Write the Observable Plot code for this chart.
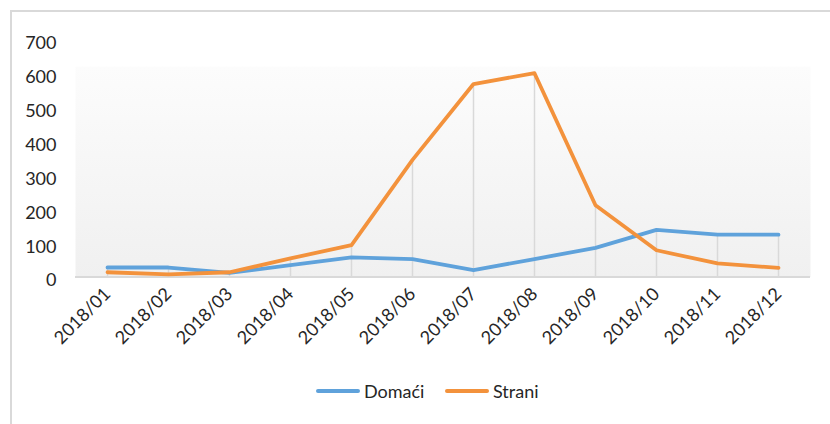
<!DOCTYPE html>
<html>
<head>
<meta charset="utf-8">
<script src="https://cdn.jsdelivr.net/npm/d3@7"></script>
<script src="https://cdn.jsdelivr.net/npm/@observablehq/plot@0.6"></script>
<style>
  html, body { margin: 0; padding: 0; background: #fff; overflow: hidden; width: 830px; height: 424px; }
  #wrap { position: relative; width: 830px; height: 424px; }
  #border { position: absolute; left: 10px; top: 10px; width: 900px; height: 600px; border: 2px solid #d9d9d9; box-sizing: border-box; pointer-events: none; }
  #legend { position: absolute; left: 0; top: 360px; width: 830px; height: 64px; font-family: Lato, sans-serif; font-size: 18px; color: #262626; }
  .item { position: absolute; top: 20px; display: flex; align-items: center; }
  .swatch { width: 44px; height: 4px; border-radius: 2px; margin-right: 4px; }
</style>
</head>
<body>
<div id="wrap">
  <div id="chart"></div>
  <div id="legend"></div>
  <div id="border"></div>
</div>
<script>
const months = ["2018/01","2018/02","2018/03","2018/04","2018/05","2018/06","2018/07","2018/08","2018/09","2018/10","2018/11","2018/12"];
const domaci = [28, 28, 12, 35, 58, 53, 20, 53, 86, 139, 125, 125];
const strani = [14, 8, 14, 55, 94, 346, 570, 602, 212, 79, 40, 27];
const seriesNames = ["Domaći", "Strani"];
const seriesColors = ["#5fa2db", "#f3923c"];
const yTicks = [0, 100, 200, 300, 400, 500, 600, 700];

const rows = [];
months.forEach((m, i) => {
  rows.push({month: m, series: seriesNames[0], value: domaci[i]});
  rows.push({month: m, series: seriesNames[1], value: strani[i]});
});
const drops = months.map((m, i) => ({month: m, top: Math.max(domaci[i], strani[i])}));

const chart = Plot.plot({
  width: 830,
  height: 360,
  marginLeft: 75,
  marginRight: 20,
  marginTop: 39.5,
  marginBottom: 83.5,
  style: {fontFamily: "Lato, sans-serif", fontSize: "18px", color: "#262626", background: "transparent"},
  x: {type: "point", domain: months, padding: 0.5, label: null, tickSize: 0, tickPadding: 14, tickRotate: -45},
  y: {domain: [0, 700], ticks: yTicks, label: null, tickSize: 0, tickPadding: 19},
  color: {domain: seriesNames, range: seriesColors},
  marks: [
    Plot.frame({fill: "url(#bgGrad)", stroke: null}),
    Plot.ruleX(drops, {x: "month", y1: 0, y2: "top", stroke: "#d9d9d9", strokeWidth: 1.5}),
    Plot.ruleY([0], {stroke: "#d9d9d9", strokeWidth: 2}),
    Plot.line(rows, {x: "month", y: "value", z: "series", stroke: "series", strokeWidth: 3.8, strokeLinejoin: "round", strokeLinecap: "round"})
  ]
});

chart.insertAdjacentHTML("afterbegin",
  '<defs><linearGradient id="bgGrad" x1="0" y1="0" x2="0" y2="1">' +
  '<stop offset="0" stop-color="#ffffff"/>' +
  '<stop offset="0.11" stop-color="#ffffff"/>' +
  '<stop offset="0.115" stop-color="#fcfcfc"/>' +
  '<stop offset="1" stop-color="#f0f0f0"/>' +
  '</linearGradient></defs>');

chart.querySelectorAll("[aria-label='y-axis tick label'] text").forEach(t => t.setAttribute("dy", "0.2em"));

document.getElementById("chart").appendChild(chart);

const legend = document.getElementById("legend");
const lefts = [316, 445];
seriesNames.forEach((name, i) => {
  const it = document.createElement("div");
  it.className = "item";
  it.style.left = lefts[i] + "px";
  it.innerHTML = '<div class="swatch" style="background:' + seriesColors[i] + '"></div><span>' + name + '</span>';
  legend.appendChild(it);
});
</script>
</body>
</html>
